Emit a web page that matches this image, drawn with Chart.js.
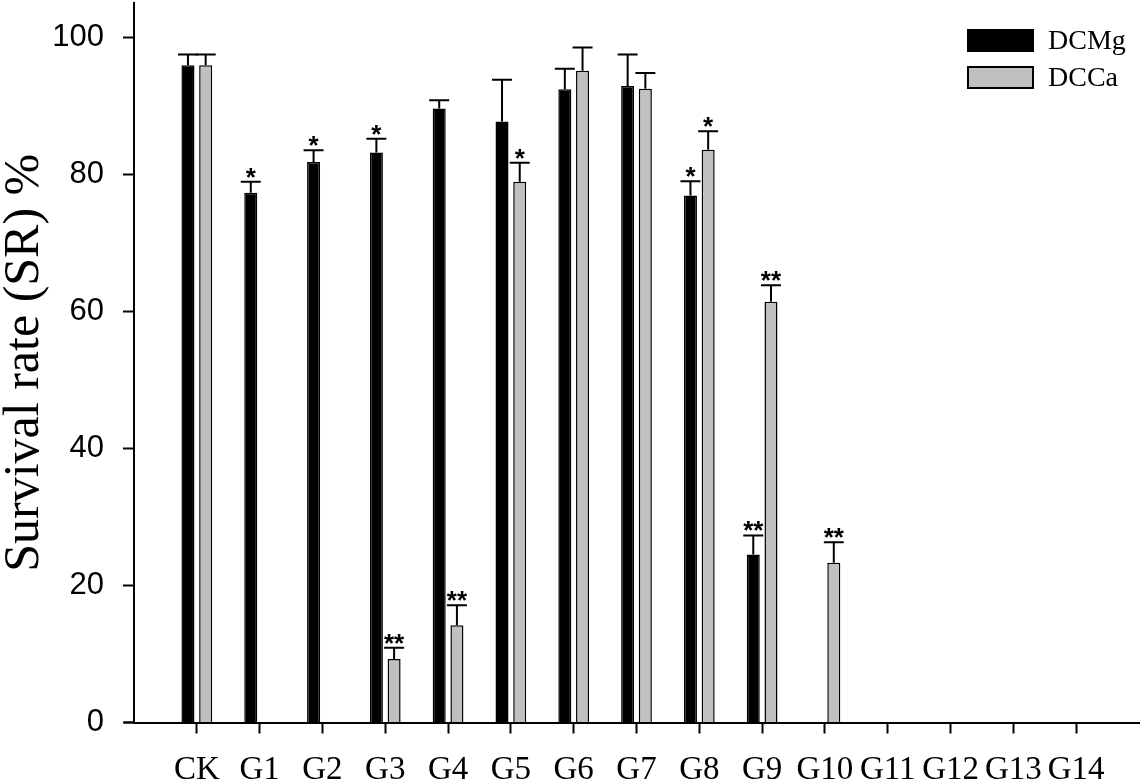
<!DOCTYPE html>
<html>
<head>
<meta charset="utf-8">
<script src="https://cdn.jsdelivr.net/npm/chart.js@4.4.1/dist/chart.umd.min.js"></script>
<style>
  html, body { margin: 0; padding: 0; background: #ffffff; }
  canvas { display: block; }
</style>
</head>
<body>
<canvas id="c" width="1143" height="783"></canvas>
<script>
// ---- data ----
const categories = ['CK','G1','G2','G3','G4','G5','G6','G7','G8','G9','G10','G11','G12','G13','G14'];
const seriesNames = ['DCMg', 'DCCa'];
const dcmgValues = [95.9, 77.3, 81.8, 83.2, 89.6, 87.7, 92.4, 92.9, 76.9, 24.5, null, null, null, null, null];
const dcmgErrors = [1.6, 1.6, 1.7, 2.0, 1.2, 6.1, 3.0, 4.6, 2.1, 2.8, null, null, null, null, null];
const dcmgMarks  = ['', '*', '*', '*', '', '', '', '', '*', '**', '', '', '', '', ''];
const dccaValues = [95.9, null, null, 9.25, 14.2, 78.9, 95.1, 92.5, 83.6, 61.4, 23.3, null, null, null, null];
const dccaErrors = [1.6, null, null, 1.65, 2.9, 2.8, 3.4, 2.3, 2.7, 2.4, 3.0, null, null, null, null];
const dccaMarks  = ['', '', '', '**', '**', '*', '', '', '*', '**', '**', '', '', '', ''];
const yTickValues = [0, 20, 40, 60, 80, 100];
const yTitle = 'Survival rate (SR) %';

const serif = "'Times New Roman', 'Liberation Serif', serif";
const sans = "Arial, 'Liberation Sans', sans-serif";

const errBars = [dcmgErrors, dccaErrors];
const sigMarks = [dcmgMarks, dccaMarks];

const errorBarPlugin = {
  id: 'errorBars',
  afterDatasetsDraw(chart) {
    const ctx = chart.ctx;
    const yScale = chart.scales.y;
    ctx.save();
    chart.data.datasets.forEach((ds, di) => {
      const meta = chart.getDatasetMeta(di);
      meta.data.forEach((bar, j) => {
        const v = ds.data[j].y;
        const e = errBars[di][j];
        if (v == null || e == null) return;
        const x = bar.x;
        const y0 = yScale.getPixelForValue(v);
        const y1 = yScale.getPixelForValue(v + e);
        ctx.strokeStyle = '#000';
        ctx.lineWidth = 2;
        ctx.beginPath();
        ctx.moveTo(x, y0);
        ctx.lineTo(x, y1);
        ctx.moveTo(x - 10, y1);
        ctx.lineTo(x + 10, y1);
        ctx.stroke();
        const m = sigMarks[di][j];
        if (m) {
          ctx.fillStyle = '#000';
          ctx.font = 'bold 26px ' + sans;
          ctx.textAlign = 'center';
          ctx.textBaseline = 'alphabetic';
          ctx.fillText(m, x, y1 + 4);
        }
      });
    });
    ctx.restore();
  }
};

const axisExtensionPlugin = {
  id: 'axisExt',
  afterDraw(chart) {
    const ctx = chart.ctx;
    const a = chart.chartArea;
    ctx.save();
    ctx.strokeStyle = '#000';
    ctx.lineWidth = 2;
    ctx.beginPath();
    ctx.moveTo(a.left - 10, a.bottom);
    ctx.lineTo(a.left, a.bottom);
    ctx.stroke();
    ctx.restore();
  }
};

const legendPlugin = {
  id: 'boxLegend',
  afterDraw(chart) {
    const ctx = chart.ctx;
    ctx.save();
    const x = 968, w = 65, h = 21;
    const ys = [30, 67];
    chart.data.datasets.forEach((ds, i) => {
      const y = ys[i];
      ctx.fillStyle = ds.backgroundColor;
      ctx.fillRect(x, y, w, h);
      ctx.strokeStyle = '#000';
      ctx.lineWidth = 2;
      ctx.strokeRect(x, y, w, h);
      ctx.fillStyle = '#000';
      ctx.font = '28px ' + serif;
      ctx.textAlign = 'left';
      ctx.textBaseline = 'middle';
      ctx.fillText(ds.label, 1048, y + h / 2 + 1);
    });
    ctx.restore();
  }
};

new Chart(document.getElementById('c'), {
  type: 'bar',
  data: {
    datasets: [
      {
        label: seriesNames[0],
        data: categories.map((c, i) => ({ x: i, y: dcmgValues[i] })),
        backgroundColor: '#000000',
        borderColor: '#000000',
        borderWidth: 1.5,
        categoryPercentage: 0.564,
        barPercentage: 0.735
      },
      {
        label: seriesNames[1],
        data: categories.map((c, i) => ({ x: i, y: dccaValues[i] })),
        backgroundColor: '#c0c0c0',
        borderColor: '#000000',
        borderWidth: 1.5,
        categoryPercentage: 0.564,
        barPercentage: 0.735
      }
    ]
  },
  options: {
    responsive: false,
    animation: false,
    devicePixelRatio: 1,
    layout: { padding: { top: 3, right: 4, left: 0, bottom: 0 } },
    plugins: {
      legend: { display: false },
      tooltip: { enabled: false }
    },
    scales: {
      x: {
        type: 'linear',
        min: -1,
        max: 15,
        offset: false,
        afterBuildTicks(scale) {
          scale.ticks = categories.map((c, i) => ({ value: i }));
        },
        afterFit(scale) {
          scale.height = 60.5;
          scale.paddingLeft = 0;
          scale.paddingRight = 0;
        },
        ticks: {
          stepSize: 1,
          autoSkip: false,
          maxRotation: 0,
          minRotation: 0,
          padding: 17,
          color: '#000',
          font: { family: serif, size: 33 },
          callback: (v) => categories[v] !== undefined ? categories[v] : ''
        },
        grid: {
          offset: false,
          drawOnChartArea: false,
          drawTicks: true,
          tickLength: 11,
          tickWidth: 2,
          tickColor: '#000'
        },
        border: { display: true, color: '#000', width: 2 }
      },
      y: {
        min: 0,
        max: 105,
        afterBuildTicks(scale) {
          scale.ticks = yTickValues.map(v => ({ value: v }));
        },
        afterFit(scale) {
          scale.width = 134;
          scale.paddingTop = 0;
          scale.paddingBottom = 0;
        },
        ticks: {
          stepSize: 20,
          includeBounds: false,
          padding: 19,
          color: '#000',
          font: { family: sans, size: 31 }
        },
        grid: {
          drawOnChartArea: false,
          drawTicks: true,
          tickLength: 11,
          tickWidth: 2,
          tickColor: '#000'
        },
        border: { display: true, color: '#000', width: 2 },
        title: {
          display: true,
          text: yTitle,
          color: '#000',
          font: { family: serif, size: 50, lineHeight: 1 },
          padding: { top: 0, bottom: 0 }
        }
      }
    }
  },
  plugins: [errorBarPlugin, axisExtensionPlugin, legendPlugin]
});
</script>
</body>
</html>
